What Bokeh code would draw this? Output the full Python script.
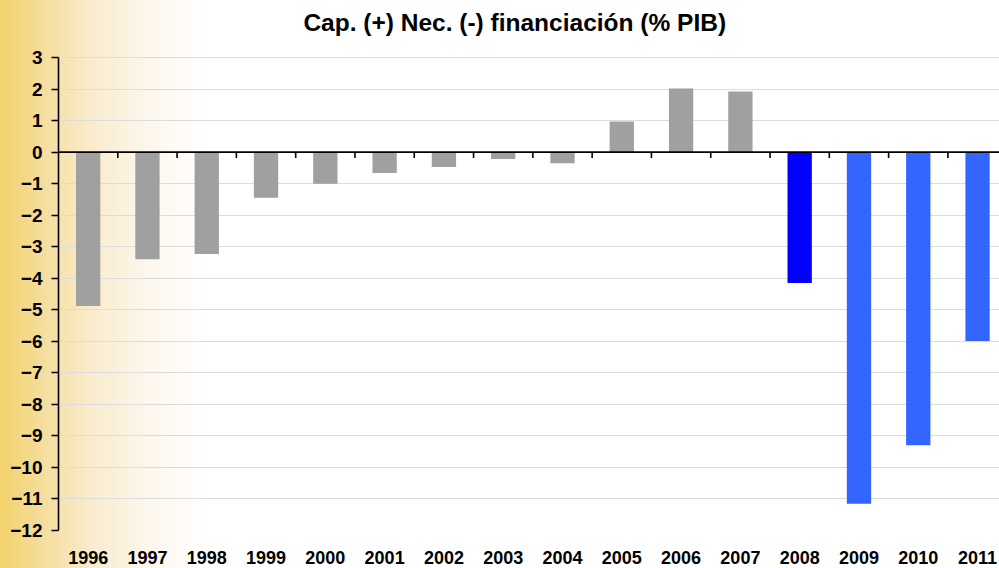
from bokeh.plotting import figure
from bokeh.models import Span, FixedTicker, Label, Range1d
from bokeh.embed import file_html
from bokeh.resources import INLINE

years = ["1996", "1997", "1998", "1999", "2000", "2001", "2002", "2003",
         "2004", "2005", "2006", "2007", "2008", "2009", "2010", "2011"]
values = [-4.88, -3.40, -3.23, -1.45, -1.00, -0.66, -0.47, -0.22,
          -0.35, 0.97, 2.02, 1.92, -4.15, -11.15, -9.30, -5.99]
bar_colors = ["#A0A0A0"] * 12 + ["#0000FF", "#3366FF", "#3366FF", "#3366FF"]
y_ticks = list(range(-12, 4))
title_text = "Cap. (+) Nec. (-) financiación (% PIB)"

idx = list(range(len(years)))
FONT = "Liberation Sans"

# the frame reaches the top of the canvas so the title can sit inside it;
# the y axis itself is bounded to -12..3
p = figure(width=999, height=568, output_backend="svg", toolbar_location=None,
           x_range=Range1d(-0.5, 15.37), y_range=Range1d(-12, 4.808),
           min_border_left=58, min_border_right=0, min_border_top=0, min_border_bottom=38)

p.styles = {"background": "linear-gradient(to right, #F3D26B 0px, #F5DE9F 45px, #F9EBCB 90px, #FCF5E9 140px, #FFFFFF 205px)"}
p.border_fill_color = None
p.background_fill_color = None
p.outline_line_color = None

p.add_layout(Label(x=3.63, y=4.11, text=title_text, text_font=FONT, text_font_size="24.5px",
                   text_font_style="bold", text_align="left", text_baseline="middle",
                   text_color="#000000"))

p.vbar(x=idx, top=values, bottom=0, width=0.41, fill_color=bar_colors, line_color=None)

# zero axis line and category boundary ticks
p.add_layout(Span(location=0, dimension="width", line_color="black", line_width=1.6))
bounds = [i + 0.5 for i in idx[:-1]]
p.segment(x0=bounds, y0=[0] * len(bounds), x1=bounds, y1=[-0.19] * len(bounds),
          line_color="black", line_width=1.6)

# x axis (labels only, at bottom)
xa = p.xaxis[0]
xa.ticker = FixedTicker(ticks=idx)
xa.major_label_overrides = {i: y for i, y in zip(idx, years)}
xa.axis_line_color = None
xa.major_tick_line_color = None
xa.minor_tick_line_color = None
xa.major_label_standoff = 14
xa.major_label_text_font = FONT
xa.major_label_text_font_size = "18px"
xa.major_label_text_font_style = "bold"
xa.major_label_text_color = "#000000"

# y axis
ya = p.yaxis[0]
ya.ticker = FixedTicker(ticks=y_ticks)
ya.bounds = (min(y_ticks), max(y_ticks))
ya.axis_line_color = "black"
ya.axis_line_width = 1.6
ya.major_tick_line_color = "black"
ya.major_tick_line_width = 1.6
ya.major_tick_out = 7
ya.major_tick_in = 0
ya.minor_tick_line_color = None
ya.major_label_standoff = 9
ya.major_label_text_font = FONT
ya.major_label_text_font_size = "19px"
ya.major_label_text_font_style = "bold"
ya.major_label_text_color = "#000000"

p.xgrid.grid_line_color = None
p.ygrid.ticker = FixedTicker(ticks=y_ticks)
p.ygrid.grid_line_color = "#DCDCDC"
p.ygrid.grid_line_width = 1

open("out.html", "w").write(file_html(p, INLINE))
